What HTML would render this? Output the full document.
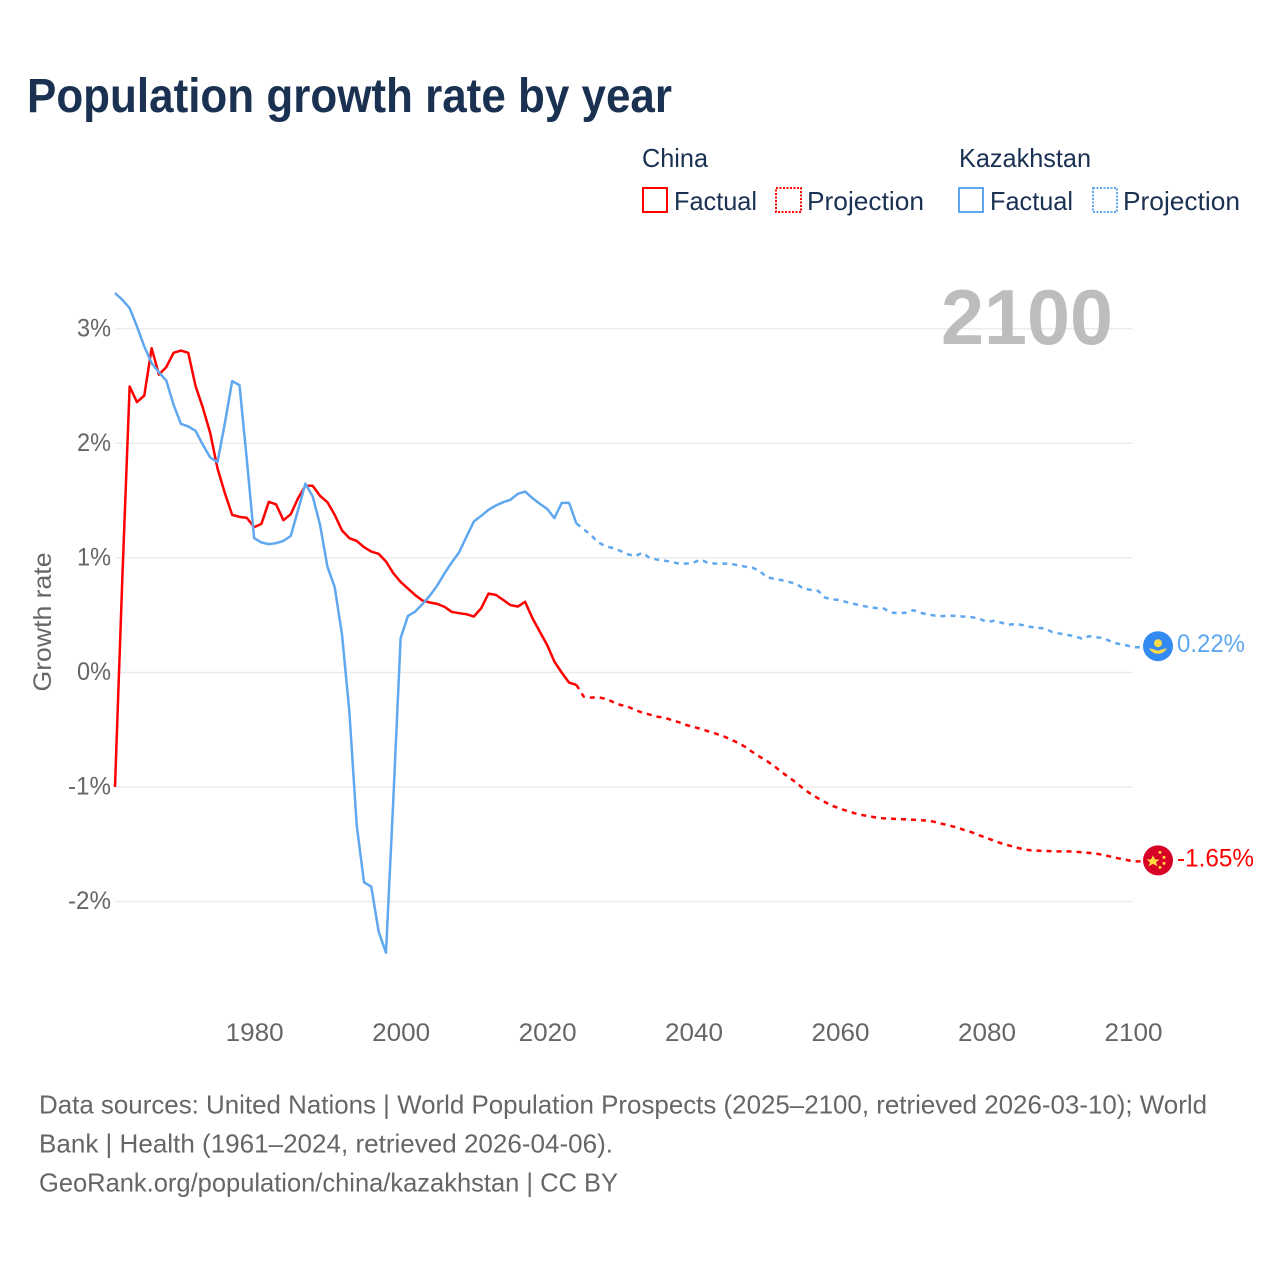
<!DOCTYPE html>
<html lang="en">
<head>
<meta charset="utf-8">
<title>Population growth rate by year</title>
<style>
  html, body { margin: 0; padding: 0; background: #fff; }
  svg { display: block; font-family: "Liberation Sans", sans-serif; }
</style>
</head>
<body>
<svg id="chart" width="1280" height="1280" viewBox="0 0 1280 1280" xmlns="http://www.w3.org/2000/svg">
  <rect x="0" y="0" width="1280" height="1280" fill="#ffffff"/>
  <text x="27" y="112" font-size="48" font-weight="700" fill="#1a3152" textLength="645" lengthAdjust="spacingAndGlyphs">Population growth rate by year</text>

  <g font-size="26" fill="#1a3152">
    <text x="642" y="167" textLength="66" lengthAdjust="spacingAndGlyphs">China</text>
    <text x="959" y="167" textLength="132" lengthAdjust="spacingAndGlyphs">Kazakhstan</text>
    <g>
      <rect x="643" y="188" width="24" height="24" fill="none" stroke="#ff0000" stroke-width="2"/>
      <text x="674" y="210" textLength="83" lengthAdjust="spacingAndGlyphs">Factual</text>
    </g>
    <g>
      <rect x="776" y="188" width="25" height="24" fill="none" stroke="#ff0000" stroke-width="2" stroke-dasharray="2 1.5"/>
      <text x="807" y="210" textLength="117" lengthAdjust="spacingAndGlyphs">Projection</text>
    </g>
    <g>
      <rect x="959" y="188" width="24" height="24" fill="none" stroke="#5fa8ef" stroke-width="2"/>
      <text x="990" y="210" textLength="83" lengthAdjust="spacingAndGlyphs">Factual</text>
    </g>
    <g>
      <rect x="1093" y="188" width="24" height="24" fill="none" stroke="#5fa8ef" stroke-width="2" stroke-dasharray="2 1.5"/>
      <text x="1123" y="210" textLength="117" lengthAdjust="spacingAndGlyphs">Projection</text>
    </g>
  </g>

  <g id="grid"></g>
  <text x="941" y="344" font-size="78" font-weight="700" fill="#bdbdbd" textLength="172" lengthAdjust="spacingAndGlyphs">2100</text>
  <g id="y-ticks" font-size="25" fill="#666666"></g>
  <g id="x-ticks" font-size="25" fill="#666666"></g>
  <text transform="translate(51 622) rotate(-90)" text-anchor="middle" font-size="25" fill="#666666" textLength="139" lengthAdjust="spacingAndGlyphs">Growth rate</text>

  <g id="series"></g>

  <g id="end-china">
    <circle cx="0" cy="0" r="15" fill="#d80027"/>
    <polygon points="-7,-5 -5,-1 -0.5,-1 -4,2 -2.5,6 -7,3.5 -11.5,6 -10,2 -13.5,-1 -9,-1" transform="translate(2 0)" fill="#ffda44"/>
    <circle cx="2" cy="-8" r="1.5" fill="#ffda44"/>
    <circle cx="6" cy="-3" r="1.5" fill="#ffda44"/>
    <circle cx="6" cy="3" r="1.5" fill="#ffda44"/>
    <circle cx="2" cy="7" r="1.5" fill="#ffda44"/>
  </g>
  <g id="end-kazakhstan">
    <circle cx="0" cy="0" r="15" fill="#338af3"/>
    <circle cx="0" cy="-3" r="4" fill="#ffda44"/>
    <path d="M-9 2 Q-4 3 0 4.5 Q4 3 9 2 Q6 7.5 0 7.5 Q-6 7.5 -9 2 Z" fill="#ffda44"/>
  </g>

  <text id="value-china" x="1177" font-size="25" fill="#ff0000" textLength="77" lengthAdjust="spacingAndGlyphs"></text>
  <text id="value-kazakhstan" x="1177" font-size="25" fill="#5fa8ef" textLength="68" lengthAdjust="spacingAndGlyphs"></text>

  <g font-size="26" fill="#666666">
    <text x="39" y="1113.5" textLength="1168" lengthAdjust="spacingAndGlyphs">Data sources: United Nations | World Population Prospects (2025–2100, retrieved 2026-03-10); World</text>
    <text x="39" y="1152.5" textLength="574" lengthAdjust="spacingAndGlyphs">Bank | Health (1961–2024, retrieved 2026-04-06).</text>
    <text x="39" y="1191.5" textLength="579" lengthAdjust="spacingAndGlyphs">GeoRank.org/population/china/kazakhstan | CC BY</text>
  </g>
</svg>

<script>
const factualStartYear = 1961;
const projectionStartYear = 2025;
const lastYear = 2100;

const chinaFactual = [
  -1.0, 0.82, 2.496, 2.36, 2.417, 2.83, 2.60, 2.665, 2.79, 2.81,
  2.79, 2.50, 2.31, 2.09, 1.78, 1.565, 1.375, 1.358, 1.349, 1.268,
  1.297, 1.489, 1.466, 1.329, 1.381, 1.521, 1.629, 1.629, 1.541, 1.486,
  1.375, 1.239, 1.172, 1.148, 1.093, 1.055, 1.035, 0.968, 0.866, 0.79,
  0.732, 0.674, 0.627, 0.61, 0.598, 0.572, 0.528, 0.517, 0.508, 0.487,
  0.56, 0.688, 0.677, 0.633, 0.587, 0.575, 0.616, 0.473, 0.356, 0.24,
  0.094, -0.002, -0.089, -0.109
];
const chinaProjection = [
  -0.212, -0.22, -0.217, -0.231, -0.258, -0.284, -0.298, -0.328, -0.351, -0.368,
  -0.386, -0.395, -0.415, -0.435, -0.459, -0.476, -0.493, -0.514, -0.534, -0.555,
  -0.583, -0.613, -0.648, -0.694, -0.735, -0.773, -0.817, -0.869, -0.915, -0.962,
  -1.015, -1.061, -1.099, -1.134, -1.166, -1.19, -1.21, -1.23, -1.245, -1.256,
  -1.268, -1.274, -1.277, -1.282, -1.282, -1.286, -1.291, -1.294, -1.306, -1.323,
  -1.338, -1.355, -1.376, -1.396, -1.422, -1.445, -1.469, -1.492, -1.51, -1.527,
  -1.544, -1.553, -1.556, -1.559, -1.562, -1.562, -1.562, -1.565, -1.57, -1.576,
  -1.582, -1.594, -1.609, -1.623, -1.635, -1.65
];
const kazakhstanFactual = [
  3.312, 3.253, 3.18, 3.02, 2.845, 2.70, 2.62, 2.548, 2.336, 2.17,
  2.147, 2.109, 1.987, 1.876, 1.836, 2.176, 2.543, 2.508, 1.856, 1.172,
  1.134, 1.12, 1.128, 1.148, 1.192, 1.419, 1.648, 1.535, 1.288, 0.924,
  0.744, 0.328, -0.342, -1.332, -1.832, -1.871, -2.264, -2.447, -1.114, 0.30,
  0.493, 0.531, 0.598, 0.671, 0.758, 0.866, 0.962, 1.05, 1.186, 1.317,
  1.367, 1.419, 1.457, 1.486, 1.507, 1.559, 1.579, 1.521, 1.472, 1.428,
  1.347, 1.48, 1.48, 1.30
];
const kazakhstanProjection = [
  1.25, 1.198, 1.134, 1.102, 1.085, 1.061, 1.032, 1.015, 1.044, 1.0,
  0.985, 0.976, 0.965, 0.95, 0.95, 0.959, 0.985, 0.954, 0.95, 0.95,
  0.95, 0.936, 0.924, 0.915, 0.886, 0.831, 0.817, 0.805, 0.79, 0.773,
  0.732, 0.72, 0.712, 0.651, 0.639, 0.63, 0.612, 0.597, 0.583, 0.569,
  0.561, 0.557, 0.522, 0.517, 0.522, 0.543, 0.52, 0.505, 0.496, 0.491,
  0.496, 0.491, 0.487, 0.482, 0.47, 0.441, 0.45, 0.435, 0.415, 0.424,
  0.412, 0.397, 0.389, 0.383, 0.351, 0.339, 0.328, 0.316, 0.295, 0.316,
  0.307, 0.299, 0.269, 0.249, 0.238, 0.22
];
const xTickYears = [1980, 2000, 2020, 2040, 2060, 2080, 2100];
const yTickValues = [3, 2, 1, 0, -1, -2];
const yTickLabels = ["3%", "2%", "1%", "0%", "-1%", "-2%"];
const chinaEndLabel = "-1.65%";
const kazakhstanEndLabel = "0.22%";

const SVG_NS = "http://www.w3.org/2000/svg";
const plotLeft = 115;
const plotRight = 1133;
const zeroY = 672.4;
const pxPerPercent = 114.55;
const flagOffset = 24;

function xScale(year) {
  return plotLeft + (year - factualStartYear) * (plotRight - plotLeft) / (lastYear - factualStartYear);
}
function yScale(value) {
  return zeroY - pxPerPercent * value;
}
function make(tag, attrs) {
  const el = document.createElementNS(SVG_NS, tag);
  for (const key in attrs) el.setAttribute(key, attrs[key]);
  return el;
}

const gridGroup = document.getElementById("grid");
const yTickGroup = document.getElementById("y-ticks");
const xTickGroup = document.getElementById("x-ticks");
const seriesGroup = document.getElementById("series");

yTickValues.forEach(function (value, i) {
  const line = make("line", { x1: plotLeft, x2: plotRight, y1: yScale(value), y2: yScale(value), stroke: "#ebebeb", "stroke-width": 1.4 });
  
  
  gridGroup.appendChild(line);

  const label = make("text", { x: 111, y: yScale(value) + 7.5, "text-anchor": "end", textLength: yTickLabels[i].length > 2 ? 43 : 34, lengthAdjust: "spacingAndGlyphs" });
  
  
  label.textContent = yTickLabels[i];
  yTickGroup.appendChild(label);
});

xTickYears.forEach(function (year) {
  const label = make("text", { x: xScale(year) + 0.5, y: 1041, "text-anchor": "middle", textLength: 58, lengthAdjust: "spacingAndGlyphs" });
  
  
  label.textContent = year;
  xTickGroup.appendChild(label);
});

function pathFrom(points) {
  return points.map(function (p, i) {
    return (i ? "L" : "M") + p[0].toFixed(2) + " " + p[1].toFixed(2);
  }).join(" ");
}

function drawSeries(name, color, factual, projection) {
  const factualPoints = factual.map(function (v, i) {
    return [xScale(factualStartYear + i), yScale(v)];
  });
  const projectionPoints = projection.map(function (v, i) {
    return [xScale(projectionStartYear + i), yScale(v)];
  });
  const lastFactual = factualPoints[factualPoints.length - 1];
  const lastProjection = projectionPoints[projectionPoints.length - 1];

  const solid = make("path", { d: pathFrom(factualPoints), fill: "none", stroke: color, "stroke-width": 2.5, "stroke-linejoin": "round" });
  
  
  seriesGroup.appendChild(solid);

  const dashedPoints = [lastFactual].concat(projectionPoints, [[lastProjection[0] + flagOffset, lastProjection[1]]]);
  const dashed = make("path", { d: pathFrom(dashedPoints), fill: "none", stroke: color, "stroke-width": 2.5, "stroke-dasharray": "5 5", "stroke-linejoin": "round" });
  
  
  seriesGroup.appendChild(dashed);

  const marker = document.getElementById("end-" + name);
  marker.setAttribute("transform", "translate(" + (lastProjection[0] + flagOffset + 1) + " " + (lastProjection[1] - 1) + ")");
  const valueLabel = document.getElementById("value-" + name);
  valueLabel.setAttribute("y", lastProjection[1] + 5);
}

drawSeries("china", "#ff0000", chinaFactual, chinaProjection);
drawSeries("kazakhstan", "#5fa8ef", kazakhstanFactual, kazakhstanProjection);

document.getElementById("value-china").textContent = chinaEndLabel;
document.getElementById("value-kazakhstan").textContent = kazakhstanEndLabel;
</script>
</body>
</html>
